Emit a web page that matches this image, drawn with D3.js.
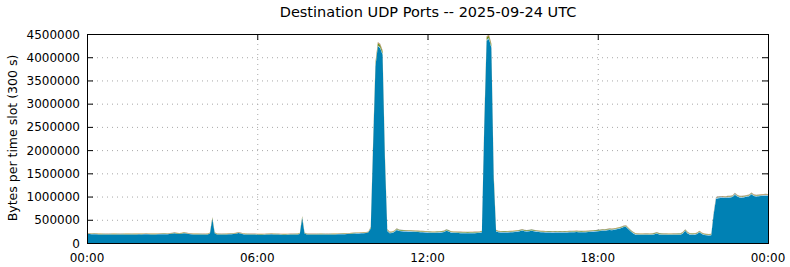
<!DOCTYPE html>
<html>
<head>
<meta charset="utf-8">
<script src="https://cdn.jsdelivr.net/npm/d3@7"></script>
<style>
  body { margin: 0; background: #fff; }
  svg { display: block; font-family: "DejaVu Sans", sans-serif; }
</style>
</head>
<body>
<svg width="790" height="267"></svg>
<script>
// bytes per 5 min slot, in thousands, 00:00 .. 24:00 (289 points)
var other = [
  195,193,191,189,187,185,184,183,182,182,183,184,
  184,183,182,183,184,185,184,183,184,185,186,185,
  186,187,186,185,184,185,186,187,188,189,191,193,
  199,209,201,194,201,211,204,193,187,185,184,184,
  183,182,182,184,204,520,210,184,183,182,183,185,
  187,189,193,201,214,203,191,185,183,182,181,181,
  180,179,179,180,182,185,187,185,183,181,180,179,
  179,180,181,182,183,184,194,540,205,183,182,181,
  181,182,183,184,183,182,182,183,184,185,186,187,
  188,190,193,197,201,205,207,207,209,211,214,229,
  310,2105,3805,4235,4195,4055,1805,260,212,217,237,282,
  257,252,247,245,242,242,239,237,235,232,229,227,
  222,219,217,217,219,222,225,235,262,247,222,217,
  215,213,212,211,210,209,210,211,212,213,217,230,
  2505,4355,4395,4205,1405,245,232,227,225,225,227,229,
  232,237,242,252,267,252,247,252,262,252,242,237,
  232,229,227,225,225,223,225,227,225,224,225,227,
  229,231,233,235,232,230,229,232,235,239,242,247,
  252,257,267,262,272,282,277,287,297,307,322,342,
  347,297,247,207,179,175,174,174,175,175,174,175,
  187,202,182,176,175,175,174,174,175,175,176,177,
  207,262,207,179,177,179,192,232,192,172,165,163,
  167,610,950,965,970,972,968,975,980,990,1040,1000,
  980,975,985,995,1005,1050,1010,1000,1005,1010,1015,1018,
  1015
];
var port53 = [
  6,6,6,6,6,6,6,6,6,6,6,6,
  6,6,6,6,6,6,6,6,6,6,6,6,
  6,6,6,6,6,6,6,6,6,6,6,6,
  6,6,6,6,6,6,6,6,6,6,6,6,
  6,6,6,6,6,10,6,6,6,6,6,6,
  6,6,6,6,6,6,6,6,6,6,6,6,
  6,6,6,6,6,6,6,6,6,6,6,6,
  6,6,6,6,6,6,6,10,6,6,6,6,
  6,6,6,6,6,6,6,6,6,6,6,6,
  6,6,6,6,6,6,6,6,6,6,6,6,
  12,20,20,20,20,20,20,12,14,14,14,14,
  14,14,14,14,14,14,14,14,14,14,14,14,
  14,14,14,14,14,14,14,14,14,14,14,14,
  14,14,14,14,14,14,14,14,14,14,14,12,
  20,20,20,20,20,12,14,14,14,14,14,14,
  14,14,14,14,14,14,14,14,14,14,14,14,
  14,14,14,14,14,14,14,14,14,14,14,14,
  14,14,14,14,14,14,14,14,14,14,14,14,
  14,14,14,14,14,14,14,14,14,14,14,14,
  14,14,14,14,14,14,14,14,14,14,14,14,
  14,14,14,14,14,14,14,14,14,14,14,14,
  14,14,14,14,14,14,14,14,14,14,14,14,
  14,18,18,18,18,18,18,18,18,18,18,18,
  18,18,18,18,18,18,18,18,18,18,18,18,
  18
];
var port123 = [
  8,8,8,8,8,8,8,8,8,8,8,8,
  8,8,8,8,8,8,8,8,8,8,8,8,
  8,8,8,8,8,8,8,8,8,8,8,8,
  8,8,8,8,8,8,8,8,8,8,8,8,
  8,8,8,8,8,20,8,8,8,8,8,8,
  8,8,8,8,8,8,8,8,8,8,8,8,
  8,8,8,8,8,8,8,8,8,8,8,8,
  8,8,8,8,8,8,8,20,8,8,8,8,
  8,8,8,8,8,8,8,8,8,8,8,8,
  8,8,8,8,8,8,8,8,8,8,8,8,
  18,50,50,50,50,50,50,18,12,12,12,12,
  12,12,12,12,12,12,12,12,12,12,12,12,
  12,12,12,12,12,12,12,12,12,12,12,12,
  12,12,12,12,12,12,12,12,12,12,12,18,
  50,50,50,50,50,18,12,12,12,12,12,12,
  12,12,12,12,12,12,12,12,12,12,12,12,
  12,12,12,12,12,12,12,12,12,12,12,12,
  12,12,12,12,12,12,12,12,12,12,12,12,
  12,12,12,12,12,12,12,12,12,12,12,12,
  12,12,12,12,12,12,12,12,12,12,12,12,
  12,12,12,12,12,12,12,12,12,12,12,12,
  12,12,12,12,12,12,12,12,12,12,12,12,
  12,8,8,8,8,8,8,8,8,8,8,8,
  8,8,8,8,8,8,8,8,8,8,8,8,
  8
];
var port443 = [
  4,4,4,4,4,4,4,4,4,4,4,4,
  4,4,4,4,4,4,4,4,4,4,4,4,
  4,4,4,4,4,4,4,4,4,4,4,4,
  4,4,4,4,4,4,4,4,4,4,4,4,
  4,4,4,4,4,6,4,4,4,4,4,4,
  4,4,4,4,4,4,4,4,4,4,4,4,
  4,4,4,4,4,4,4,4,4,4,4,4,
  4,4,4,4,4,4,4,6,4,4,4,4,
  4,4,4,4,4,4,4,4,4,4,4,4,
  4,4,4,4,4,4,4,4,4,4,4,4,
  6,15,15,15,15,15,15,6,4,4,4,4,
  4,4,4,4,4,4,4,4,4,4,4,4,
  4,4,4,4,4,4,4,4,4,4,4,4,
  4,4,4,4,4,4,4,4,4,4,4,6,
  15,15,15,15,15,6,4,4,4,4,4,4,
  4,4,4,4,4,4,4,4,4,4,4,4,
  4,4,4,4,4,4,4,4,4,4,4,4,
  4,4,4,4,4,4,4,4,4,4,4,4,
  4,4,4,4,4,4,4,4,4,4,4,4,
  4,4,4,4,4,4,4,4,4,4,4,4,
  4,4,4,4,4,4,4,4,4,4,4,4,
  4,4,4,4,4,4,4,4,4,4,4,4,
  4,6,6,6,6,6,6,6,6,6,6,6,
  6,6,6,6,6,6,6,6,6,6,6,6,
  6
];
var port1900 = [
  3,3,3,3,3,3,3,3,3,3,3,3,
  3,3,3,3,3,3,3,3,3,3,3,3,
  3,3,3,3,3,3,3,3,3,3,3,3,
  3,3,3,3,3,3,3,3,3,3,3,3,
  3,3,3,3,3,4,3,3,3,3,3,3,
  3,3,3,3,3,3,3,3,3,3,3,3,
  3,3,3,3,3,3,3,3,3,3,3,3,
  3,3,3,3,3,3,3,4,3,3,3,3,
  3,3,3,3,3,3,3,3,3,3,3,3,
  3,3,3,3,3,3,3,3,3,3,3,3,
  4,10,10,10,10,10,10,4,3,3,3,3,
  3,3,3,3,3,3,3,3,3,3,3,3,
  3,3,3,3,3,3,3,3,3,3,3,3,
  3,3,3,3,3,3,3,3,3,3,3,4,
  10,10,10,10,10,4,3,3,3,3,3,3,
  3,3,3,3,3,3,3,3,3,3,3,3,
  3,3,3,3,3,3,3,3,3,3,3,3,
  3,3,3,3,3,3,3,3,3,3,3,3,
  3,3,3,3,3,3,3,3,3,3,3,3,
  3,3,3,3,3,3,3,3,3,3,3,3,
  3,3,3,3,3,3,3,3,3,3,3,3,
  3,3,3,3,3,3,3,3,3,3,3,3,
  3,8,8,8,8,8,8,8,8,8,8,8,
  8,8,8,8,8,8,8,8,8,8,8,8,
  8
];

var seriesNames = ["other", "port53", "port123", "port443", "port1900"];
var seriesColors = ["#0081b4", "#8fc3e3", "#6d8f25", "#cf7a22", "#8c8c8c"];
var yTicks = [0, 500000, 1000000, 1500000, 2000000, 2500000, 3000000, 3500000, 4000000, 4500000];
var xTicks = [0, 360, 720, 1080, 1440];
var xTickLabels = ["00:00", "06:00", "12:00", "18:00", "00:00"];
var slotMinutes = 5;

var cols = { other: other, port53: port53, port123: port123, port443: port443, port1900: port1900 };
var rows = other.map(function(v, i) {
    var r = { t: i * slotMinutes };
    seriesNames.forEach(function(n) { r[n] = cols[n][i] * 1000; });
    return r;
});

var svg = d3.select("svg");
var plotL = 87, plotR = 768, plotT = 34, plotB = 243;

var x = d3.scaleLinear().domain([0, 1440]).range([plotL, plotR]);
var y = d3.scaleLinear().domain([0, 4500000]).range([plotB, plotT]);

// title
svg.append("text")
    .attr("x", 428).attr("y", 17)
    .attr("text-anchor", "middle")
    .style("font-size", "14.5px")
    .text("Destination UDP Ports -- 2025-09-24 UTC");

// y label
svg.append("text")
    .attr("transform", "translate(17,138) rotate(-90)")
    .attr("text-anchor", "middle")
    .style("font-size", "12.5px")
    .text("Bytes per time slot (300 s)");

// grid
var grid = svg.append("g").attr("class", "grid")
    .attr("stroke", "#a8a8a8").attr("stroke-dasharray", "1,4");
yTicks.slice(1, -1).forEach(function(v) {
    grid.append("line").attr("x1", plotL).attr("x2", plotR)
        .attr("y1", y(v) + 0.5).attr("y2", y(v) + 0.5);
});
xTicks.slice(1, -1).forEach(function(v) {
    grid.append("line").attr("y1", plotT).attr("y2", plotB)
        .attr("x1", x(v) + 0.5).attr("x2", x(v) + 0.5);
});

// ticks (inward)
var ticks = svg.append("g").attr("stroke", "#000");
yTicks.forEach(function(v) {
    ticks.append("line").attr("x1", plotL).attr("x2", plotL + 6)
        .attr("y1", y(v) + 0.5).attr("y2", y(v) + 0.5);
    ticks.append("line").attr("x1", plotR - 6).attr("x2", plotR)
        .attr("y1", y(v) + 0.5).attr("y2", y(v) + 0.5);
});
xTicks.forEach(function(v) {
    ticks.append("line").attr("y1", plotT).attr("y2", plotT + 6)
        .attr("x1", x(v) + 0.5).attr("x2", x(v) + 0.5);
});

// stacked areas
var stack = d3.stack().keys(seriesNames);
var layers = stack(rows);
var area = d3.area()
    .x(function(d) { return x(d.data.t); })
    .y0(function(d) { return y(d[0]); })
    .y1(function(d) { return y(d[1]); });

svg.append("g").selectAll("path")
    .data(layers)
    .enter().append("path")
    .attr("d", area)
    .attr("fill", function(d, i) { return seriesColors[i]; });

// frame
svg.append("rect")
    .attr("x", plotL + 0.5).attr("y", plotT + 0.5)
    .attr("width", plotR - plotL).attr("height", plotB - plotT)
    .attr("fill", "none").attr("stroke", "#000");

// tick labels
svg.append("g").selectAll("text")
    .data(yTicks)
    .enter().append("text")
    .attr("x", plotL - 7).attr("y", function(d) { return y(d) + 4.5; })
    .attr("text-anchor", "end")
    .style("font-size", "12px")
    .text(function(d) { return d; });

svg.append("g").selectAll("text")
    .data(xTicks)
    .enter().append("text")
    .attr("x", function(d) { return x(d); }).attr("y", 262)
    .attr("text-anchor", "middle")
    .style("font-size", "12px")
    .text(function(d, i) { return xTickLabels[i]; });
</script>
</body>
</html>
